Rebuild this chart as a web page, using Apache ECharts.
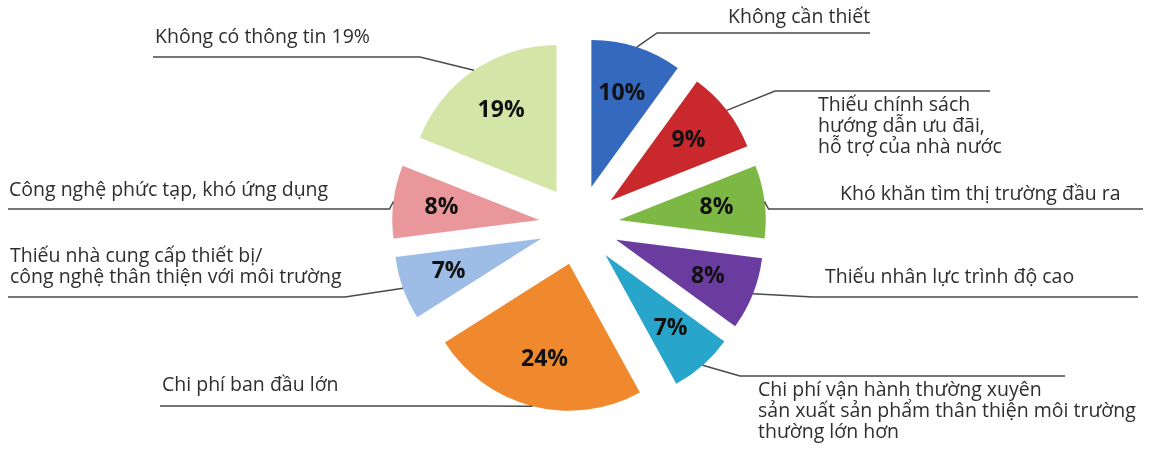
<!DOCTYPE html>
<html>
<head>
<meta charset="utf-8">
<script src="https://cdn.jsdelivr.net/npm/echarts@6/dist/echarts.min.js"></script>
<style>
html,body{margin:0;padding:0;background:#ffffff;}
#chart{width:1170px;height:449px;}
</style>
</head>
<body>
<div id="chart"></div>
<script>
// ---- data ----
const categories = [
  'Không cần thiết',
  'Thiếu chính sách hướng dẫn ưu đãi, hỗ trợ của nhà nước',
  'Khó khăn tìm thị trường đầu ra',
  'Thiếu nhân lực trình độ cao',
  'Chi phí vận hành thường xuyên sản xuất sản phẩm thân thiện môi trường thường lớn hơn',
  'Chi phí ban đầu lớn',
  'Thiếu nhà cung cấp thiết bị/ công nghệ thân thiện với môi trường',
  'Công nghệ phức tạp, khó ứng dụng',
  'Không có thông tin'
];
const values = [10, 9, 8, 8, 7, 24, 7, 8, 19];
const calloutLabels = [
  'Không cần thiết',
  'Thiếu chính sách\nhướng dẫn ưu đãi,\nhỗ trợ của nhà nước',
  'Khó khăn tìm thị trường đầu ra',
  'Thiếu nhân lực trình độ cao',
  'Chi phí vận hành thường xuyên\nsản xuất sản phẩm thân thiện môi trường\nthường lớn hơn',
  'Chi phí ban đầu lớn',
  'Thiếu nhà cung cấp thiết bị/\ncông nghệ thân thiện với môi trường',
  'Công nghệ phức tạp, khó ứng dụng',
  'Không có thông tin 19%'
];

// ---- styles / layout ----
const colors = ['#3569bd', '#c9282d', '#7cb843', '#6a3c9f', '#27a5cb', '#f0892d', '#9dbde6', '#e9979b', '#d4e5a8'];
const CX = 579, CY = 225, R = 147, OFF = 40;
// [textX, textTop, bendX, bendY, endX]  (bendX null => straight horizontal)
const calloutSpots = [
  [728, 7, 657, 33, 870],
  [818, 95, 775, 91, 990],
  [840, 184, null, 209, 1143],
  [825, 267, 813, 297, 1138],
  [758, 380, 740, 376, 1065],
  [162, 375, 483, 406, 160],
  [10, 246, 345, 297, 8],
  [9, 180, null, 209, 8],
  [155, 27, 420, 57, 153]
];

const sliceData = categories.map((n, i) => ({
  name: n, value: values[i], selected: true, itemStyle: { color: colors[i] }
}));
const ghostData = categories.map((n, i) => ({ name: n, value: values[i] }));

const chart = echarts.init(document.getElementById('chart'));
chart.setOption({
  animation: false,
  backgroundColor: '#ffffff',
  series: [
    {
      type: 'pie',
      center: [CX, CY],
      radius: [0, R],
      startAngle: 90,
      clockwise: true,
      selectedMode: 'multiple',
      selectedOffset: OFF,
      avoidLabelOverlap: false,
      label: { show: false },
      labelLine: { show: false },
      emphasis: { disabled: true },
      itemStyle: { borderWidth: 0 },
      data: sliceData,
      z: 1
    },
    {
      type: 'pie',
      center: [CX, CY],
      radius: [0, R + OFF],
      startAngle: 90,
      clockwise: true,
      silent: true,
      avoidLabelOverlap: false,
      itemStyle: { color: 'rgba(0,0,0,0)' },
      emphasis: { disabled: true },
      label: {
        show: true,
        position: 'outside',
        formatter: p => calloutLabels[p.dataIndex],
        color: '#2e2e2e',
        fontFamily: 'Open Sans',
        fontSize: 19.5,
        lineHeight: 21
      },
      labelLine: {
        show: true,
        length: 8,
        length2: 8,
        lineStyle: { color: '#4a4a4a', width: 1.5 }
      },
      labelLayout: function (p) {
        const s = calloutSpots[p.dataIndex];
        const pts = p.labelLinePoints;
        const p0 = pts ? pts[0] : [s[2] || s[4], s[3]];
        let bend;
        if (s[2] == null) {
          bend = [p0[0] + (s[4] > p0[0] ? 4 : -4), s[3]];
        } else {
          bend = [s[2], s[3]];
        }
        return {
          x: s[0], y: s[1], align: 'left', verticalAlign: 'top',
          labelLinePoints: [p0, bend, [s[4], s[3]]]
        };
      },
      data: ghostData,
      z: 2
    },
    {
      type: 'pie',
      center: [CX, CY],
      radius: [OFF + 0.3 * R, OFF + R],
      startAngle: 90,
      clockwise: true,
      silent: true,
      avoidLabelOverlap: false,
      itemStyle: { color: 'rgba(0,0,0,0)' },
      emphasis: { disabled: true },
      label: {
        show: true,
        position: 'inside',
        formatter: '{c}%',
        color: '#111111',
        fontFamily: 'Open Sans',
        fontWeight: 'bold',
        fontSize: 23
      },
      labelLine: { show: false },
      data: ghostData,
      z: 3
    }
  ]
});
</script>
</body>
</html>
